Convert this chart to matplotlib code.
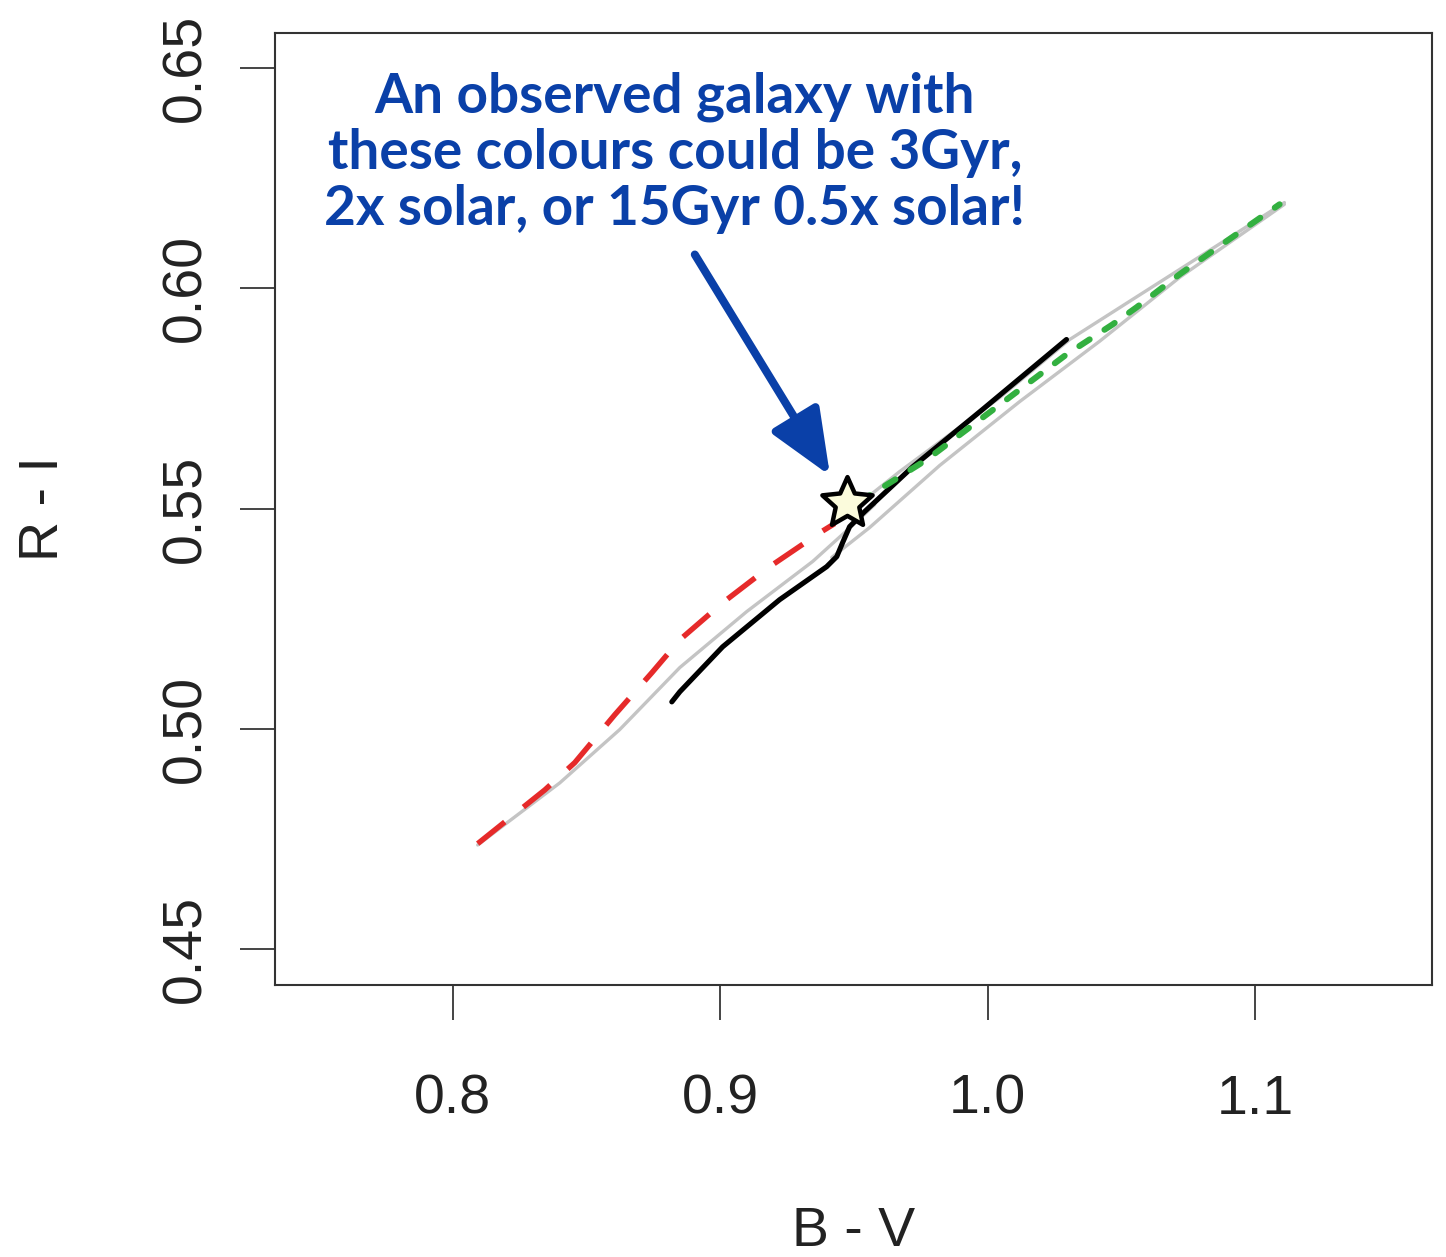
import matplotlib
matplotlib.use("Agg")
import numpy as np
import matplotlib.pyplot as plt
from matplotlib.path import Path

# Colour-colour tracks (B-V vs R-I) for stellar population models
red_bv = [0.8093, 0.8344, 0.8456, 0.8606, 0.8744, 0.8849, 0.9009, 0.9185, 0.9372, 0.9428]
red_ri = [0.4739, 0.4861, 0.4923, 0.5032, 0.5127, 0.5202, 0.5286, 0.5368, 0.5445, 0.5466]

black_bv = [0.8819, 0.8849, 0.9009, 0.9222, 0.9398, 0.9436, 0.9458, 0.9484, 0.9540, 0.9720, 0.9981, 1.0295]
black_ri = [0.5061, 0.5084, 0.5186, 0.5293, 0.5368, 0.5391, 0.5423, 0.5459, 0.5493, 0.5595, 0.5725, 0.5884]

green_bv = [0.9521, 0.9570, 0.9772, 1.0120, 1.0295, 1.0467, 1.0557, 1.0718, 1.0893, 1.1092]
green_ri = [0.5516, 0.5534, 0.5611, 0.5770, 0.5850, 0.5918, 0.5957, 0.6032, 0.6107, 0.6191]

# Grey connecting tracks of the model grid
grey_young_bv = [0.8093, 0.8400, 0.8624, 0.8849, 0.9099, 0.9346, 0.9477, 0.9578]
grey_young_ri = [0.4736, 0.4877, 0.4998, 0.5139, 0.5266, 0.5380, 0.5452, 0.5509]
grey_old_bv = [0.9428, 0.9671, 1.0045, 1.0307, 1.0718, 1.1110]
grey_old_ri = [0.5466, 0.5584, 0.5752, 0.5884, 0.6043, 0.6195]
grey_mid_bv = [0.9417, 0.9559, 0.9821, 1.0120, 1.0419, 1.0718, 1.1110]
grey_mid_ri = [0.5389, 0.5457, 0.5598, 0.5743, 0.5880, 0.6025, 0.6191]

# Observed galaxy
galaxy_bv = 0.9473
galaxy_ri = 0.5513

x_ticks = [0.8, 0.9, 1.0, 1.1]
x_ticklabels = ["0.8", "0.9", "1.0", "1.1"]
y_ticks = [0.45, 0.50, 0.55, 0.60, 0.65]
y_ticklabels = ["0.45", "0.50", "0.55", "0.60", "0.65"]

note = "An observed galaxy with\nthese colours could be 3Gyr,\n2x solar, or 15Gyr 0.5x solar!"

blue = "#0a40a8"

# A slightly plump five-pointed star marker
ang = np.pi / 2 + np.arange(10) * np.pi / 5
rad = np.where(np.arange(10) % 2 == 0, 1.0, 0.47)
star_verts = np.column_stack([rad * np.cos(ang), rad * np.sin(ang)])
star_verts = np.vstack([star_verts, star_verts[:1]])
star_marker = Path(star_verts, closed=True)

fig = plt.figure(figsize=(14.46, 12.57), dpi=100)
ax = fig.add_axes([0.1902, 0.2164, 0.8001, 0.7573])
ax.set_xlim(0.7335, 1.1662)
ax.set_ylim(0.4418, 0.658)

grey = "#c4c4c4"
for bv, ri in [(grey_young_bv, grey_young_ri), (grey_old_bv, grey_old_ri), (grey_mid_bv, grey_mid_ri)]:
    ax.plot(bv, ri, color=grey, lw=2.4, solid_capstyle="round", zorder=1)

ax.plot(red_bv, red_ri, color="#e62a2a", lw=3.9, dashes=(6.4, 4.4),
        dash_capstyle="butt", zorder=2)
ax.plot(black_bv, black_ri, color="black", lw=3.7, solid_capstyle="round", zorder=3)
ax.plot(green_bv, green_ri, color="#33b040", lw=4.4, dashes=(2.0, 2.9),
        dash_capstyle="round", zorder=4)

ax.plot([galaxy_bv], [galaxy_ri], marker=star_marker, markersize=38, markerfacecolor="#fbfbdc",
        markeredgecolor="black", markeredgewidth=3.2, linestyle="none", zorder=6)

ax.annotate("", xy=(galaxy_bv, galaxy_ri), xytext=(0.8905, 0.6077),
            xycoords="data", textcoords="data",
            arrowprops=dict(arrowstyle="-|>,head_length=1.0,head_width=0.42",
                            mutation_scale=40, color=blue, lw=5.8,
                            shrinkA=0, shrinkB=23), zorder=7)

ax.text(0.3457, 0.874, note, transform=ax.transAxes, ha="center", va="center",
        color=blue, fontsize=39.5, fontweight="bold", family="Lato",
        linespacing=1.15, zorder=8)

ax.set_xticks(x_ticks)
ax.set_xticklabels(x_ticklabels)
ax.set_yticks(y_ticks)
ax.set_yticklabels(y_ticklabels, rotation=90, va="center")

for lab in ax.get_xticklabels() + ax.get_yticklabels():
    lab.set_fontfamily("Liberation Sans")
    lab.set_fontsize(40)
    lab.set_color("#222222")

ax.tick_params(axis="both", direction="out", length=25, width=1.4, colors="#444444")
ax.tick_params(axis="x", pad=39, labelcolor="#222222")
ax.tick_params(axis="y", pad=20, labelcolor="#222222")

for s in ax.spines.values():
    s.set_linewidth(1.5)
    s.set_color("#333333")

ax.set_xlabel("B - V", fontsize=40, family="Liberation Sans", color="#222222")
ax.set_ylabel("R - I", fontsize=40, family="Liberation Sans", color="#222222")
ax.xaxis.set_label_coords(0.5, -0.2595)
ax.xaxis.label.set_va("center")
ax.yaxis.set_label_coords(-0.1997, 0.5)
ax.yaxis.label.set_va("center")

fig.savefig("out.png", dpi=100, facecolor="white")
